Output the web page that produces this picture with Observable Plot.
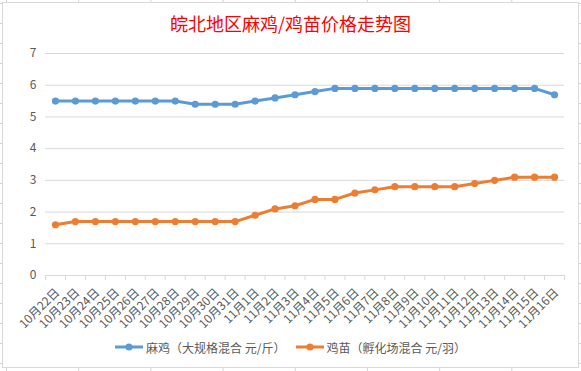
<!DOCTYPE html>
<html><head><meta charset="utf-8">
<script src="https://cdn.jsdelivr.net/npm/d3@7"></script>
<script src="https://cdn.jsdelivr.net/npm/@observablehq/plot@0.6"></script>
<style>
html,body{margin:0;padding:0;}
body{width:581px;height:371px;overflow:hidden;position:relative;background:#fff;
 background-image: linear-gradient(to right, #d4d4d4 1px, transparent 1px), linear-gradient(to bottom, #d4d4d4 1px, transparent 1px);
 background-size: 72.2px 100%, 100% 20px; background-position: 6px 0, 0 3px;}
#chart{position:absolute;left:2px;top:2px;width:577px;height:366px;box-sizing:border-box;border:1px solid #d9d9d9;background:#fff;font-family:"Noto Sans CJK SC",sans-serif;}
#title{height:36px;padding-top:2px;line-height:36px;text-align:center;color:#ff0000;font-size:18px;}
#plot svg{display:block;overflow:visible;}
#legend{display:flex;justify-content:center;align-items:center;gap:10px;font-size:12px;color:#595959;height:16px;margin-top:-2px;}
.item{display:flex;align-items:center;gap:3px;}
</style>
</head><body>
<div id="chart">
  <div id="title">皖北地区麻鸡/鸡苗价格走势图</div>
  <div id="plot"></div>
  <div id="legend"></div>
</div>
<script>
const dates = ["10月22日","10月23日","10月24日","10月25日","10月26日","10月27日","10月28日","10月29日","10月30日","10月31日",
  "11月1日","11月2日","11月3日","11月4日","11月5日","11月6日","11月7日","11月8日","11月9日","11月10日",
  "11月11日","11月12日","11月13日","11月14日","11月15日","11月16日"];
const maji = [5.5,5.5,5.5,5.5,5.5,5.5,5.5,5.4,5.4,5.4,5.5,5.6,5.7,5.8,5.9,5.9,5.9,5.9,5.9,5.9,5.9,5.9,5.9,5.9,5.9,5.7];
const jimiao = [1.6,1.7,1.7,1.7,1.7,1.7,1.7,1.7,1.7,1.7,1.9,2.1,2.2,2.4,2.4,2.6,2.7,2.8,2.8,2.8,2.8,2.9,3.0,3.1,3.1,3.1];
const yTicks = [0,1,2,3,4,5,6,7];
const seriesNames = ["麻鸡（大规格混合 元/斤）","鸡苗（孵化场混合 元/羽）"];
const colors = ["#5B9BD5","#ED7D31"];

const rows = [];
dates.forEach((d,i)=>{ rows.push({date:d,value:maji[i],series:seriesNames[0]}); });
dates.forEach((d,i)=>{ rows.push({date:d,value:jimiao[i],series:seriesNames[1]}); });

const W = 574, mL = 42, mR = 13;
const bw = (W - mL - mR) / dates.length;

const chart = Plot.plot({
  width: W, height: 300, marginTop: 12, marginBottom: 66, marginLeft: mL, marginRight: mR,
  style: {fontFamily: "'Noto Sans CJK SC', sans-serif", fontSize: "11px", color: "#595959", background: "transparent", overflow: "visible"},
  x: {type: "band", domain: dates, padding: 0, round: false, axis: null},
  y: {domain: [0,7], axis: null},
  color: {domain: seriesNames, range: colors},
  marks: [
    Plot.gridY(yTicks, {stroke: "#d9d9d9", strokeOpacity: 1}),
    Plot.axisY(yTicks, {tickSize: 0, tickPadding: 9, fontSize: 12, fill: "#595959", label: null}),
    Plot.ruleY([0], {stroke: "#d9d9d9"}),
    Plot.ruleX(dates, {x: d => d, y1: 0, y2: 0, insetBottom: -5, dx: -bw/2, stroke: "#d9d9d9"}),
    Plot.ruleX([dates[dates.length-1]], {x: d => d, y1: 0, y2: 0, insetBottom: -5, dx: bw/2, stroke: "#d9d9d9"}),
    Plot.text(dates, {x: d => d, frameAnchor: "bottom", rotate: -45, textAnchor: "end", lineAnchor: "middle", dx: 2, dy: 15, fill: "#595959", fontSize: 12}),
    Plot.line(rows, {x: "date", y: "value", z: "series", stroke: "series", strokeWidth: 3}),
    Plot.dot(rows, {x: "date", y: "value", fill: "series", r: 3.6})
  ]
});
document.getElementById("plot").appendChild(chart);

const legend = document.getElementById("legend");
seriesNames.forEach((name,i)=>{
  const item = document.createElement("div");
  item.className = "item";
  item.innerHTML = `<svg width="28" height="10"><line x1="0" x2="28" y1="5" y2="5" stroke="${colors[i]}" stroke-width="3"/><circle cx="14" cy="5" r="3.6" fill="${colors[i]}"/></svg><span>${name}</span>`;
  legend.appendChild(item);
});
</script>
</body></html>
